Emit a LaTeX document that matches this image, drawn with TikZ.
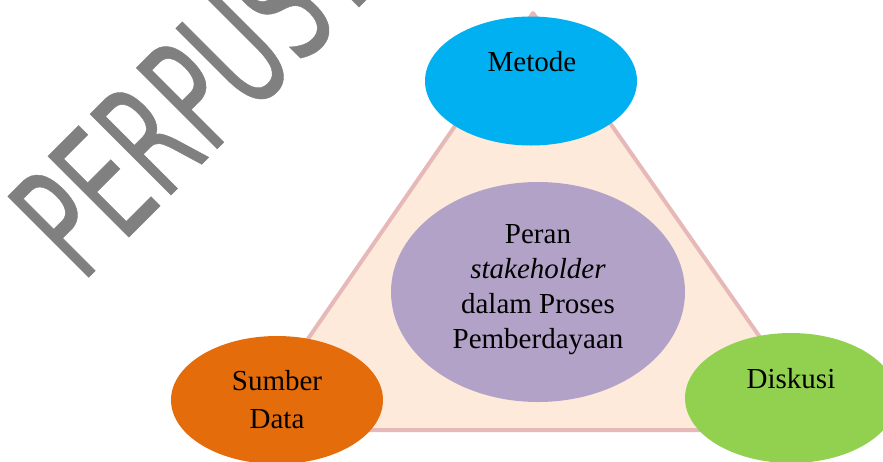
\documentclass[tikz,border=0pt]{standalone}
\usepackage{fontspec}
\setmainfont{Liberation Serif}
\newfontfamily\wmfont{DejaVu Sans}[FakeStretch=0.6,FakeBold=0.25]
\usetikzlibrary{shapes.geometric}

\definecolor{trifill}{HTML}{FDEADA}
\definecolor{triline}{HTML}{E6B9B8}
\definecolor{cblue}{HTML}{00B0F0}
\definecolor{cpurple}{HTML}{B2A2C7}
\definecolor{corange}{HTML}{E46C0A}
\definecolor{cgreen}{HTML}{92D050}
\definecolor{wmgray}{HTML}{808080}

\tikzset{
  bubble/.style={ellipse, draw=none, inner sep=0pt},
  label29/.style={font=\fontsize{29}{35}\selectfont, text=black, inner sep=0pt, align=center},
  tri/.style={fill=trifill, draw=triline, line width=4pt, line join=round},
  watermark/.style={font=\wmfont\fontsize{157}{157}\selectfont, text=wmgray, inner sep=0pt}
}

\begin{document}
\begin{tikzpicture}[x=1pt,y=-1pt]
\useasboundingbox (0,0) rectangle (883,461);
\clip (0,0) rectangle (883,461);

% library stamp across the upper left corner
\node[watermark, rotate=45, anchor=base west] (stamp) at (82,284) {PERPUSTAKAAN};

% the triangle that joins the three outer topics
\coordinate (apex) at (533,13);
\coordinate (bl) at (245,430);
\coordinate (br) at (825,430);
\draw[tri] (apex) -- (bl) -- (br) -- cycle;

% outer topics
\node[bubble, fill=cblue, minimum width=212pt, minimum height=129pt] (metode) at (531,81) {};
\node[bubble, fill=corange, minimum width=212pt, minimum height=128pt] (sumber) at (277,400) {};
\node[bubble, fill=cgreen, minimum width=212pt, minimum height=130pt] (diskusi) at (791,398) {};

% central topic
\node[bubble, fill=cpurple, minimum width=294pt, minimum height=220pt] (peran) at (538,292) {};

% labels (base anchor of a multi-line label sits on its last line)
\node[label29, anchor=base] (tmetode) at (532,71) {Metode};
\node[label29, anchor=base] (tperan) at (538,348) {Peran\\\textit{stakeholder}\\dalam Proses\\Pemberdayaan};
\node[label29, anchor=base, font=\fontsize{29}{38}\selectfont] (tsumber) at (277,428) {Sumber\\Data};
\node[label29, anchor=base] (tdiskusi) at (791,388) {Diskusi};
\end{tikzpicture}
\end{document}
